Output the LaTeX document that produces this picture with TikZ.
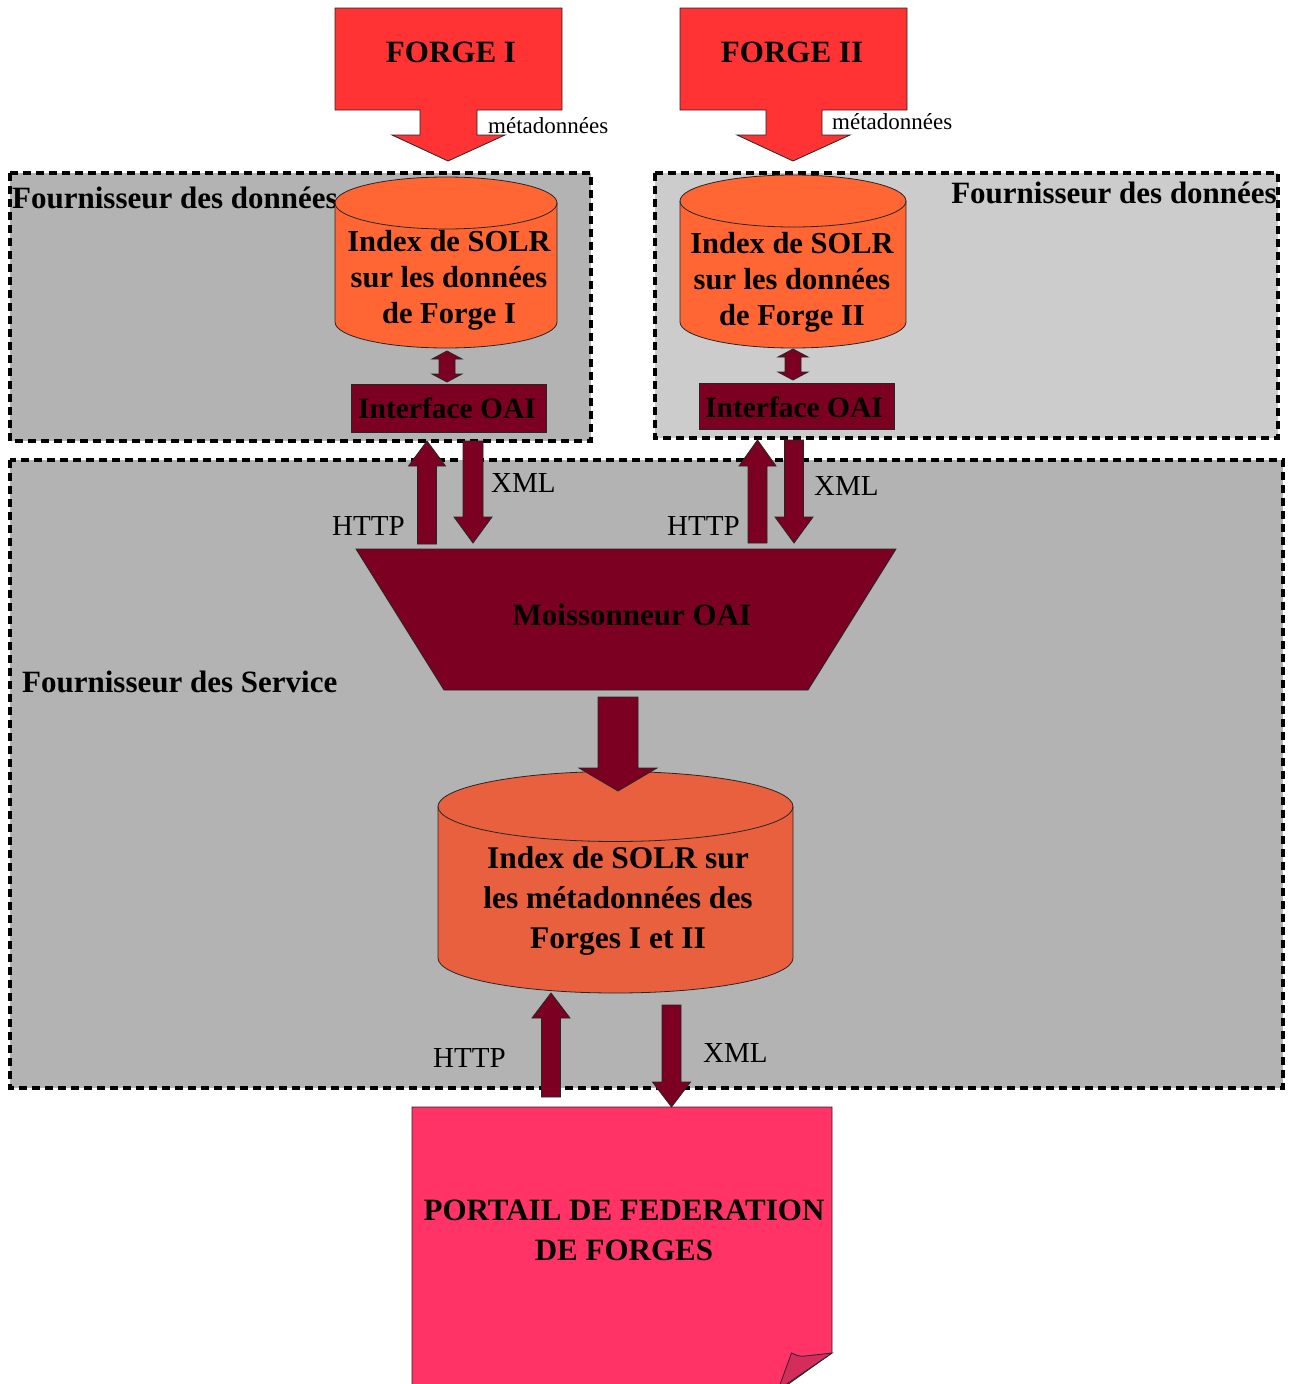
\documentclass[tikz,border=0pt]{standalone}
\usepackage{fontspec}
\setmainfont{Liberation Serif}
\definecolor{forgered}{HTML}{FF3333}
\definecolor{cylorange}{HTML}{FF6633}
\definecolor{bigorange}{HTML}{E9603E}
\definecolor{maroon}{HTML}{7B0021}
\definecolor{graydark}{HTML}{B3B3B3}
\definecolor{graylight}{HTML}{CCCCCC}
\definecolor{portalpink}{HTML}{FF3366}
\definecolor{foldpink}{HTML}{D42D5C}
\tikzset{
  dbox/.style={draw=black, line width=3.5pt, dash pattern=on 8pt off 5pt},
  shp/.style={draw=black!85, line width=0.8pt},
  bl/.style={font=\fontsize{31}{36}\selectfont\bfseries, inner sep=0pt, anchor=base},
  rl/.style={font=\fontsize{29}{34}\selectfont, inner sep=0pt, anchor=base west},
}
% cylinder: cx, rx, ytop centre, ybottom centre, ry, colour
\newcommand{\cylshape}[6]{%
  \filldraw[shp, fill=#6] (#1-#2,#3) -- (#1-#2,#4)
    arc[start angle=180, end angle=0, x radius=#2, y radius=#5]
    -- (#1+#2,#3)
    arc[start angle=0, end angle=-180, x radius=#2, y radius=#5] -- cycle;
  \draw[shp] (#1-#2,#3) arc[start angle=180, end angle=0, x radius=#2, y radius=#5];
}
% block arrow: x, ystart, yheadbase, ytip, shaft half width, head half width
\newcommand{\blkarrow}[6]{%
  \filldraw[shp, fill=maroon] (#1-#5,#2) -- (#1+#5,#2) -- (#1+#5,#3) -- (#1+#6,#3)
    -- (#1,#4) -- (#1-#6,#3) -- (#1-#5,#3) -- cycle;
}
% small double arrow: x, ytop, ybottom
\newcommand{\dblarrow}[3]{%
  \filldraw[shp, fill=maroon] (#1,#2) -- (#1+15,#2+8) -- (#1+8,#2+8) -- (#1+8,#3-8)
    -- (#1+15,#3-8) -- (#1,#3) -- (#1-15,#3-8) -- (#1-8,#3-8) -- (#1-8,#2+8)
    -- (#1-15,#2+8) -- cycle;
}
\begin{document}
\begin{tikzpicture}[x=1pt, y=-1pt]
\useasboundingbox (0,0) rectangle (1292,1384);
\fill[white] (0,0) rectangle (1292,1384);

% containers
\filldraw[dbox, fill=graydark] (10,173) rectangle (591,441);
\filldraw[dbox, fill=graylight] (655,173) rectangle (1278,438);
\filldraw[dbox, fill=graydark] (10,460) rectangle (1283,1088);

% forge arrows
\filldraw[shp, fill=forgered] (335,8) -- (562,8) -- (562,110) -- (477,110) -- (477,135)
  -- (505,135) -- (448,161) -- (392,135) -- (420,135) -- (420,110) -- (335,110) -- cycle;
\filldraw[shp, fill=forgered] (680,8) -- (907,8) -- (907,110) -- (822,110) -- (822,135)
  -- (850,135) -- (793,161) -- (737,135) -- (766,135) -- (766,110) -- (680,110) -- cycle;
\node[bl] (forgeI) at (451,62) {FORGE I};
\node[bl] (forgeII) at (792,62) {FORGE II};
\node[rl, font=\fontsize{23}{26}\selectfont] (metaI) at (488,133) {métadonnées};
\node[rl, font=\fontsize{23}{26}\selectfont] (metaII) at (832,129) {métadonnées};

% container labels
\node[bl, anchor=base west] (fdA) at (12,208) {Fournisseur des données};
\node[bl, anchor=base east] (fdB) at (1277,203) {Fournisseur des données};
\node[bl, anchor=base west] (fs) at (22,692) {Fournisseur des Service};

% data provider cylinders
\cylshape{446}{111}{203}{322}{26}{cylorange}
\cylshape{793}{113}{201}{322}{26}{cylorange}
\node[bl, font=\fontsize{30.5}{36}\selectfont\bfseries] (solrA) at (449,251)
  {\begin{tabular}[t]{@{}c@{}}Index de SOLR\\sur les données\\de Forge I\end{tabular}};
\node[bl, font=\fontsize{30.5}{36}\selectfont\bfseries] (solrB) at (792,253)
  {\begin{tabular}[t]{@{}c@{}}Index de SOLR\\sur les données\\de Forge II\end{tabular}};

% interfaces
\dblarrow{447}{351}{382}
\dblarrow{793}{349}{380}
\filldraw[shp, fill=maroon] (351,384) rectangle (546,432);
\filldraw[shp, fill=maroon] (699,383) rectangle (894,429);
\node[bl, font=\fontsize{29.5}{36}\selectfont\bfseries] (oaiA) at (447,418) {Interface OAI};
\node[bl, font=\fontsize{29.5}{36}\selectfont\bfseries] (oaiB) at (794,417) {Interface OAI};

% HTTP / XML arrows to the harvester
\blkarrow{427}{544}{466}{441}{9.5}{18.5}
\blkarrow{473}{441}{517}{543}{10}{19}
\blkarrow{757.5}{543}{466}{440}{9.5}{18.5}
\blkarrow{794}{440}{517}{543}{9.5}{19}
\node[rl] (httpA) at (332,535) {HTTP};
\node[rl] (xmlA) at (491,492) {XML};
\node[rl] (httpB) at (667,535) {HTTP};
\node[rl] (xmlB) at (814,495) {XML};

% harvester
\filldraw[shp, fill=maroon] (356,549) -- (896,549) -- (808,690) -- (444,690) -- cycle;
\node[bl] (harv) at (632,625) {Moissonneur OAI};

% central index
\cylshape{615.5}{177.5}{806.5}{958}{35}{bigorange}
\node[bl, font=\fontsize{31.5}{40}\selectfont\bfseries] (solrC) at (618,868)
  {\begin{tabular}[t]{@{}c@{}}Index de SOLR sur\\les métadonnées des\\Forges I et II\end{tabular}};
\blkarrow{618}{697}{768}{791}{20}{39}

% portal
\filldraw[shp, fill=portalpink] (412,1390) -- (412,1107) -- (832,1107) -- (832,1353)
  -- (780,1390) -- cycle;
\filldraw[shp, fill=foldpink] (778,1390) -- (791.5,1353)
  .. controls (796,1355) and (800,1357) .. (805,1356) -- (832,1353) -- cycle;
\node[bl, font=\fontsize{31}{40}\selectfont\bfseries] (portal) at (624,1220)
  {\begin{tabular}[t]{@{}c@{}}PORTAIL DE FEDERATION\\DE FORGES\end{tabular}};

% HTTP / XML arrows to the portal
\blkarrow{551}{1097}{1018}{993}{9.5}{19}
\blkarrow{671.5}{1005}{1082}{1107}{9.5}{19}
\node[rl] (httpC) at (433,1067) {HTTP};
\node[rl] (xmlC) at (703,1062) {XML};
\end{tikzpicture}
\end{document}
